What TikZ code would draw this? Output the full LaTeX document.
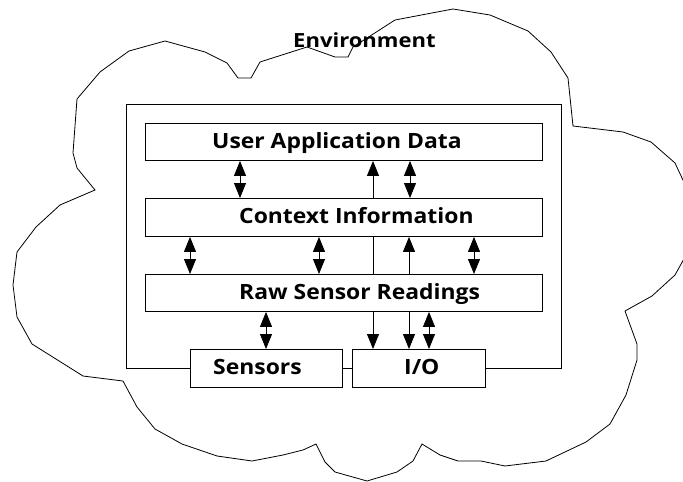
\documentclass[tikz,border=0pt]{standalone}
\usepackage{fontspec}
\setmainfont{Open Sans}
\newfontfamily\layerfont{Open Sans}[FakeStretch=1.09]
\newfontfamily\envfont{Open Sans}[FakeStretch=1.13]
\usetikzlibrary{arrows.meta}

\tikzset{
  layer/.style={draw=black, line width=0.9pt, fill=white, inner sep=0pt,
                anchor=north west, rectangle},
  lbl/.style={inner sep=0pt, anchor=base west,
              font=\layerfont\bfseries\fontsize{21}{21}\selectfont},
  tip/.tip={Triangle[length=15pt, width=12pt]},
  uni/.style={line width=0.9pt, -tip},
  bidi/.style={line width=0.9pt, tip-tip},
  plain/.style={line width=0.9pt},
  cloud/.style={line width=0.8pt, line join=miter}
}

\begin{document}
\begin{tikzpicture}[x=1pt, y=-1pt]
  \useasboundingbox (0,0) rectangle (683,482);

  % environment outline
  \begin{scope}
    \clip (0,0) rectangle (683,482);
    \draw[cloud] (165,41) -- (205,52) -- (227,63) -- (238,78) -- (251,78)
      -- (260,62) -- (307,47) -- (335,57) -- (348,57) -- (353,47) -- (395,20)
      -- (453,9) -- (490,15) -- (528,31) -- (551,52) -- (568,78) -- (573,126)
      -- (623,132) -- (651,142) -- (675,163) -- (690,195) -- (690,248)
      -- (675,275) -- (652,296) -- (625,311) -- (637,344) -- (637,360)
      -- (626,395) -- (610,424) -- (586,442) -- (546,461) -- (505,466)
      -- (481,461) -- (458,461) -- (440,455) -- (422,444) -- (413,461)
      -- (397,472) -- (367,481) -- (335,472) -- (325,462) -- (316,444)
      -- (303,450) -- (283,455) -- (252,461) -- (217,456) -- (182,444)
      -- (155,429) -- (137,407) -- (123,381) -- (115,380) -- (83,376)
      -- (32,344) -- (17,317) -- (13,285) -- (17,252) -- (36,227)
      -- (60,205) -- (95,190) -- (77,168) -- (73,153) -- (77,99)
      -- (100,72) -- (129,51) -- cycle;
  \end{scope}
  \node[lbl, font=\envfont\bfseries\fontsize{19.5}{19.5}\selectfont] (env) at (293,47) {Environment};

  % system frame
  \node[layer, fill=none, minimum width=435pt, minimum height=264pt] (sys) at (126,104) {};

  % layers
  \node[layer, minimum width=397pt, minimum height=37pt] (uad) at (145,123) {};
  \node[layer, minimum width=397pt, minimum height=38pt] (ci)  at (145,198) {};
  \node[layer, minimum width=397pt, minimum height=37pt] (rsr) at (145,274) {};
  \node[layer, minimum width=152pt, minimum height=38pt] (sens) at (190,349) {};
  \node[layer, minimum width=133pt, minimum height=38pt] (io)  at (352,349) {};

  \node[lbl] (tuad) at (212,148) {User Application Data};
  \node[lbl] (tci)  at (239,223) {Context Information};
  \node[lbl] (trsr) at (239,299) {Raw Sensor Readings};
  \node[lbl] (tsen) at (213,374) {Sensors};
  \node[lbl] (tio)  at (404,374) {I/O};

  % connector columns
  \coordinate (a1) at (240,0);
  \coordinate (a3) at (410,0);
  \coordinate (mid) at (373,0);
  \coordinate (b1) at (190,0);
  \coordinate (b2) at (319,0);
  \coordinate (b4) at (409,0);
  \coordinate (b5) at (474,0);
  \coordinate (d1) at (266,0);
  \coordinate (d4) at (429,0);

  % user application data <-> context information
  \draw[bidi] (a1 |- uad.south) -- (a1 |- ci.north);
  \draw[uni]  (mid |- ci.north) -- (mid |- uad.south);
  \draw[bidi] (a3 |- uad.south) -- (a3 |- ci.north);

  % context information <-> raw sensor readings
  \draw[bidi]  (b1 |- ci.south) -- (b1 |- rsr.north);
  \draw[bidi]  (b2 |- ci.south) -- (b2 |- rsr.north);
  \draw[plain] (mid |- rsr.north) -- (mid |- ci.south);
  \draw[uni]   (b4 |- rsr.north) -- (b4 |- ci.south);
  \draw[bidi]  (b5 |- ci.south) -- (b5 |- rsr.north);

  % raw sensor readings <-> sensors, I/O
  \draw[bidi] (d1 |- rsr.south) -- (d1 |- sens.north);
  \draw[uni]  (mid |- rsr.south) -- (mid |- io.north);
  \draw[uni]  (b4 |- rsr.south) -- (b4 |- io.north);
  \draw[bidi] (d4 |- rsr.south) -- (d4 |- io.north);
\end{tikzpicture}
\end{document}
